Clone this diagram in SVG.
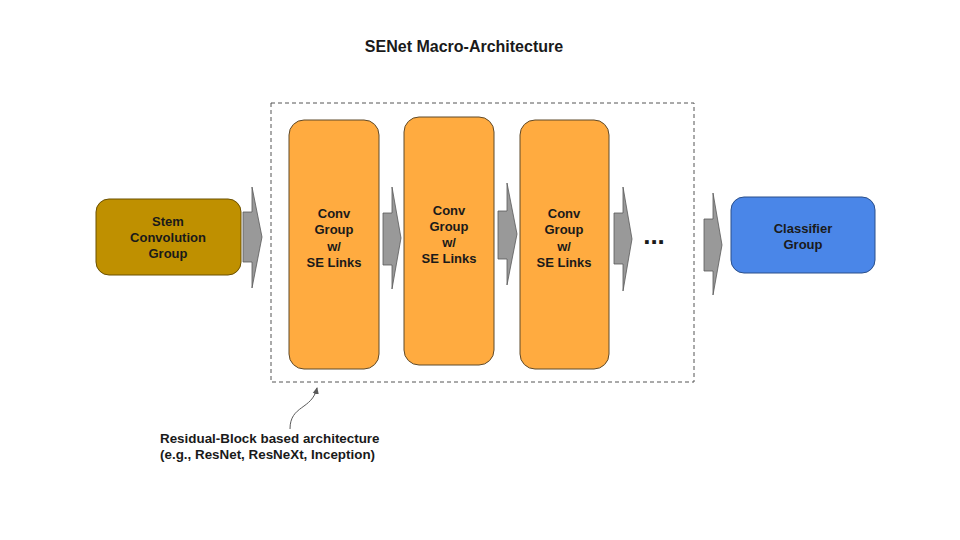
<svg xmlns="http://www.w3.org/2000/svg" width="960" height="540" viewBox="0 0 960 540">
<style>
text{font-family:"Liberation Sans",Arial,sans-serif;font-weight:bold;fill:#1a1a1a;text-anchor:middle;font-size:13px}
.conv{fill:#ffab40;stroke:#5f4a2a;stroke-width:1}
.arr{fill:#999999;stroke:#595959;stroke-width:0.8}
.note{text-anchor:start;font-size:13.4px}
</style>
<defs>
<marker id="ah" markerWidth="8" markerHeight="8" refX="6" refY="4" orient="auto" markerUnits="userSpaceOnUse">
<path d="M0,0.8 L7,4 L0,7.2 Z" fill="#595959"/>
</marker>
</defs>
<rect width="960" height="540" fill="#ffffff"/>
<text x="464" y="52" style="font-size:16px">SENet Macro-Architecture</text>
<rect x="271" y="103" width="423" height="279" fill="none" stroke="#555" stroke-width="1" stroke-dasharray="4,3"/>
<g id="stem">
<rect x="96" y="199" width="145" height="76" rx="13" fill="#bf9000" stroke="#6b5000" stroke-width="1"/>
<text x="168" y="226">Stem</text>
<text x="168" y="242">Convolution</text>
<text x="168" y="258">Group</text>
</g>
<g id="conv1">
<rect class="conv" x="289" y="120" width="90" height="249" rx="15"/>
<text x="334" y="218">Conv</text>
<text x="334" y="234">Group</text>
<text x="334" y="251">w/</text>
<text x="334" y="267">SE Links</text>
</g>
<g id="conv2">
<rect class="conv" x="404" y="117" width="90" height="248" rx="15"/>
<text x="449" y="215">Conv</text>
<text x="449" y="231">Group</text>
<text x="449" y="247">w/</text>
<text x="449" y="263">SE Links</text>
</g>
<g id="conv3">
<rect class="conv" x="520" y="120" width="89" height="249" rx="15"/>
<text x="564" y="218">Conv</text>
<text x="564" y="234">Group</text>
<text x="564" y="251">w/</text>
<text x="564" y="267">SE Links</text>
</g>
<g id="dots">
<text x="654" y="244" style="font-size:26px">...</text>
</g>
<g id="classifier">
<rect x="731" y="197" width="144" height="76" rx="13" fill="#4a86e8" stroke="#2a4f8a" stroke-width="1"/>
<text x="803" y="233">Classifier</text>
<text x="803" y="249">Group</text>
</g>
<g id="connectors">
<path class="arr" d="M243,212 H252 V187 L262,237 L252,288 V262 H243 Z"/>
<path class="arr" d="M383,213 H392 V187 L401,238 L392,289 V265 H383 Z"/>
<path class="arr" d="M498,211 H507 V183 L517,234 L507,285 V259 H498 Z"/>
<path class="arr" d="M614,213 H623 V187 L632,239 L623,291 V264 H614 Z"/>
<path class="arr" d="M704,219 H713 V193 L722,245 L713,295 V271 H704 Z"/>
<path d="M290,429 C290,405 312,410 317,388" fill="none" stroke="#595959" stroke-width="1" marker-end="url(#ah)"/>
</g>
<text class="note" x="160" y="443">Residual-Block based architecture</text>
<text class="note" x="160" y="459">(e.g., ResNet, ResNeXt, Inception)</text>
</svg>
